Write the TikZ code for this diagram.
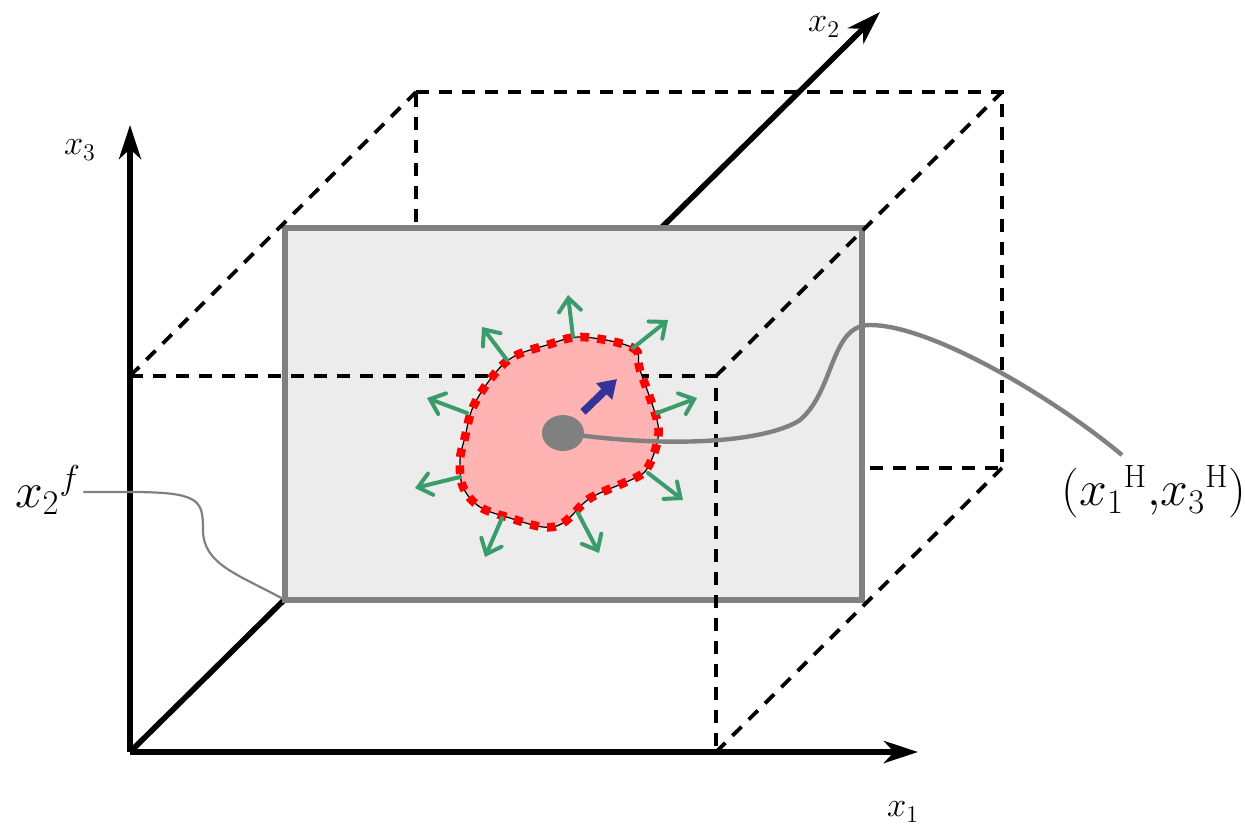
\documentclass[tikz,border=0pt]{standalone}
\usepackage{fontspec}
\usetikzlibrary{arrows.meta, positioning, calc, shapes.geometric}
\definecolor{slabGrey}{HTML}{808080}
\definecolor{slabFill}{HTML}{ECECEC}
\definecolor{blobPink}{HTML}{FFB3B3}
\definecolor{fluxGreen}{HTML}{3A9B6B}
\definecolor{dirBlue}{HTML}{333399}

\begin{document}
\begin{tikzpicture}[
    x=0.5pt, y=-0.5pt,
    axis/.style={line width=2.8pt, -{Stealth[length=17pt, width=11pt, inset=5pt]}},
    hidden/.style={line width=1.9pt, dash pattern=on 6.5pt off 5pt},
    plane/.style={draw=slabGrey, fill=slabFill, line width=2.7pt},
    lead/.style={draw=slabGrey, line width=1.1pt},
    leadthick/.style={draw=slabGrey, line width=2.2pt},
    flux/.style={draw=fluxGreen, line width=2pt, line cap=round,
                 -{Straight Barb[length=6.5pt, width=11pt, line cap=round]}},
    push/.style={draw=dirBlue, line width=3.8pt, -{Triangle[length=9pt, width=11pt]}},
    lbl/.style={inner sep=1pt, font=\fontsize{17}{20}\selectfont},
  ]
  \useasboundingbox (0,0) rectangle (1245,832);
  % front face of the box sits on the axes, back face shifted by (286,-284)
  \coordinate (O)   at (130,752);
  \coordinate (fTL) at (130,376);
  \coordinate (fTR) at (716,376);
  \coordinate (fBR) at (716,752);
  \coordinate (bTL) at ($(fTL)+(286,-284)$);
  \coordinate (bTR) at ($(fTR)+(286,-284)$);
  \coordinate (bBR) at ($(fBR)+(286,-284)$);
  \coordinate (e1) at (918,752);
  \coordinate (e2) at (880,12);
  \coordinate (e3) at (130,125);

  % hidden parts first
  \draw[hidden] (bTL) -- (bTR) -- (bBR) -- ($(bBR)+(-586,0)$) -- cycle;
  \draw[axis] (O) -- (e2);

  % the plane x2 = x2^f
  \coordinate (pSW) at (285,600);
  \coordinate (pNE) at (862,228);
  \draw[plane] (pSW) rectangle (pNE);

  \draw[hidden] (fTL) -- (fTR) -- (fBR);
  \draw[hidden] (fTL) -- (bTL);
  \draw[hidden] (fTR) -- (bTR);
  \draw[hidden] (fBR) -- (bBR);
  \draw[axis] (O) -- (e1);
  \draw[axis] (O) -- (e3);

  % hole
  \def\blob{(582,337) (633,348) (640,370) (657,420) (657,443) (648,467)
            (637,477) (600,493) (585,502) (563,523) (543,527) (510,518)
            (480,507) (463,487) (460,460) (465,437) (473,407) (492,377)
            (513,357) (547,345)}
  \draw[fill=blobPink, line width=0.6pt] plot[smooth cycle, tension=0.6] coordinates {\blob};
  \draw[red, line width=4.3pt, dash pattern=on 4.3pt off 4.2pt]
    plot[smooth cycle, tension=0.6] coordinates {\blob};

  \foreach \ax/\ay/\bx/\by [count=\i] in {573/337/568/295, 507/360/482/327, 633/348/668/320,
      467/413/427/398, 657/413/697/398, 460/477/415/488, 648/473/683/500,
      502/518/485/557, 578/513/599/553}
  {
    \path (\ax,\ay) coordinate (f\i a) (\bx,\by) coordinate (f\i b);
    \draw[flux] (f\i a) -- (f\i b);
  }

  \node[ellipse, fill=slabGrey, minimum width=21pt, minimum height=18pt, inner sep=0] (hole) at (563,433) {};
  \coordinate (d1) at (583,412);
  \coordinate (d2) at (617,379);
  \draw[push] (d1) -- (d2);

  % labels
  \node[lbl] (lx1) at (903,812) {$x_1$};
  \node[lbl] (lx2) at (824,27) {$x_2$};
  \node[lbl] (lx3) at (80,150) {$x_3$};
  \node[inner sep=1pt, font=\fontsize{25}{30}\selectfont] (lxf) at (48,490) {${x_2}^{f}$};
  \node[inner sep=1pt, font=\fontsize{23}{28}\selectfont] (lh) at (1154,492)
    {$({x_1}^{\mathrm{H}}{,}{x_3}^{\mathrm{H}})$};

  \coordinate (hEnd) at (1122,455);
  \draw[leadthick] (hole.center) .. controls (680,450) and (770,440) .. (800,420)
    .. controls (835,390) and (830,325) .. (870,325)
    .. controls (930,325) and (1050,395) .. (hEnd);
  \draw[lead] (lxf.east |- 0,492) -- (130,492) .. controls (200,492) and (203,500) .. (203,530)
    .. controls (203,565) and (240,575) .. (pSW);
\end{tikzpicture}
\end{document}
